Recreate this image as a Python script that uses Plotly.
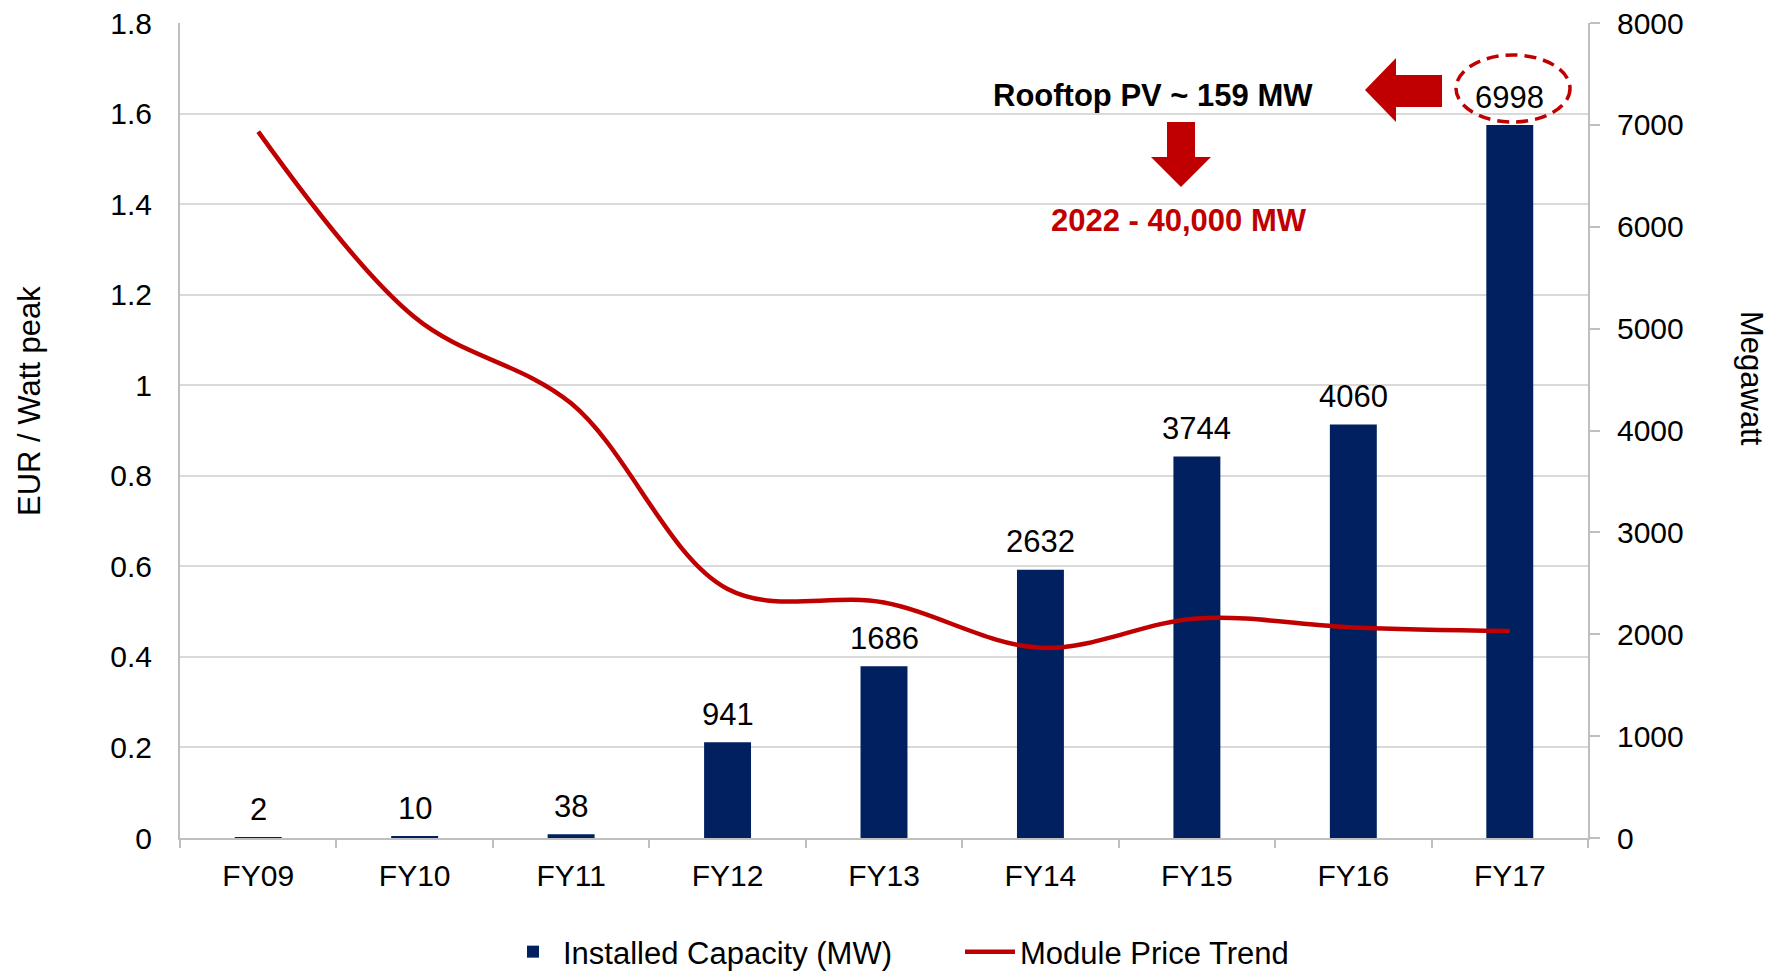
import plotly.graph_objects as go

# ---------------- data ----------------
categories = ["FY09", "FY10", "FY11", "FY12", "FY13", "FY14", "FY15", "FY16", "FY17"]
capacity_mw = [2, 10, 38, 941, 1686, 2632, 3744, 4060, 6998]
module_price = [1.56, 1.15, 0.96, 0.55, 0.52, 0.42, 0.485, 0.465, 0.457]

price_ticks = [0, 0.2, 0.4, 0.6, 0.8, 1.0, 1.2, 1.4, 1.6, 1.8]
price_tick_labels = ["0", "0.2", "0.4", "0.6", "0.8", "1", "1.2", "1.4", "1.6", "1.8"]
mw_ticks = [0, 1000, 2000, 3000, 4000, 5000, 6000, 7000, 8000]
mw_tick_labels = [str(v) for v in mw_ticks]

bar_name = "Installed Capacity (MW)"
line_name = "Module Price Trend"
left_title = "EUR / Watt peak"
right_title = "Megawatt"
note_rooftop = "Rooftop PV ~ 159 MW"
note_target = "2022 - 40,000 MW"

# ---------------- layout geometry ----------------
W, H = 1783, 974
L, R, T, B = 180, 195, 23, 136
PW, PH = W - L - R, H - T - B
FONT = "Liberation Sans, Arial, sans-serif"
RED = "#C00000"
NAVY = "#002060"
GRID = "#D9D9D9"
AXIS = "#BFBFBF"


def P(px, py):
    return ((px - L) / PW, (H - B - py) / PH)


def path(points):
    pts = [P(x, y) for x, y in points]
    return "M " + " L ".join(f"{x:.5f},{y:.5f}" for x, y in pts) + " Z"


fig = go.Figure()

fig.add_trace(go.Bar(
    x=categories, y=capacity_mw, yaxis="y", name=bar_name,
    marker=dict(color=NAVY, line=dict(width=0)),
    hoverinfo="x+y",
))
fig.add_trace(go.Scatter(
    x=categories, y=module_price, yaxis="y2", name=line_name, mode="lines",
    line=dict(color=RED, width=4.5, shape="spline", smoothing=1.0),
))

annotations = []
for c, v in zip(categories, capacity_mw):
    annotations.append(dict(
        x=c, y=v, xref="x", yref="y", text=str(v), showarrow=False,
        yanchor="middle", yshift=28, font=dict(size=31, color="#000", family=FONT),
    ))

x0, y0 = P(29, 401)
annotations.append(dict(x=x0, y=y0, xref="paper", yref="paper", text=left_title,
                        showarrow=False, textangle=-90, xanchor="center", yanchor="middle",
                        font=dict(size=31, color="#000", family=FONT)))
x0, y0 = P(1752, 378)
annotations.append(dict(x=x0, y=y0, xref="paper", yref="paper", text=right_title,
                        showarrow=False, textangle=90, xanchor="center", yanchor="middle",
                        font=dict(size=31, color="#000", family=FONT)))
x0, y0 = P(1153, 95)
annotations.append(dict(x=x0, y=y0, xref="paper", yref="paper", text=f"<b>{note_rooftop}</b>",
                        showarrow=False, xanchor="center", yanchor="middle",
                        font=dict(size=31, color="#000", family=FONT)))
x0, y0 = P(1179, 220)
annotations.append(dict(x=x0, y=y0, xref="paper", yref="paper", text=f"<b>{note_target}</b>",
                        showarrow=False, xanchor="center", yanchor="middle",
                        font=dict(size=31, color=RED, family=FONT)))

shapes = []
# left-pointing block arrow
shapes.append(dict(type="path", xref="paper", yref="paper", fillcolor=RED, line=dict(width=0),
                   path=path([(1365, 90), (1396, 58), (1396, 75), (1442, 75), (1442, 107),
                              (1396, 107), (1396, 122)])))
# down-pointing block arrow
shapes.append(dict(type="path", xref="paper", yref="paper", fillcolor=RED, line=dict(width=0),
                   path=path([(1167, 122), (1195, 122), (1195, 157), (1211, 157), (1181, 187),
                              (1151, 157), (1167, 157)])))
# dashed ellipse around the last value
ex0, ey0 = P(1456, 122)
ex1, ey1 = P(1570, 55)
shapes.append(dict(type="circle", xref="paper", yref="paper", x0=ex0, y0=ey0, x1=ex1, y1=ey1,
                   line=dict(color=RED, width=3.5, dash="12px,7px"), fillcolor="rgba(0,0,0,0)"))

fig.update_layout(
    width=W, height=H,
    margin=dict(l=L, r=R, t=T, b=B, pad=0, autoexpand=False),
    paper_bgcolor="white", plot_bgcolor="white",
    font=dict(family=FONT, size=30, color="#000"),
    bargap=0.7,
    showlegend=True,
    legend=dict(orientation="h", xref="container", x=503 / W, xanchor="left",
                yref="container", y=(H - 952) / H, yanchor="middle",
                font=dict(size=31, family=FONT, color="#000"),
                bgcolor="rgba(0,0,0,0)", itemwidth=50, entrywidth=392,
                entrywidthmode="pixels", traceorder="normal"),
    xaxis=dict(type="category", tickson="boundaries", ticks="outside", ticklen=8,
               tickcolor=AXIS, tickwidth=2, showline=True, linecolor=AXIS, linewidth=2,
               showgrid=False, zeroline=False, tickfont=dict(size=30, family=FONT),
               ticklabelstandoff=10, automargin=False),
    yaxis=dict(side="right", range=[0, 8000], tickvals=mw_ticks, ticktext=mw_tick_labels,
               showgrid=False, zeroline=False, showline=True, linecolor=AXIS, linewidth=2,
               ticks="outside", ticklen=10, tickcolor=AXIS, tickwidth=2,
               tickfont=dict(size=30, family=FONT), ticklabelstandoff=11, automargin=False),
    yaxis2=dict(overlaying="y", side="left", range=[0, 1.8], tickvals=price_ticks,
                ticktext=price_tick_labels, showgrid=True, gridcolor=GRID, gridwidth=1.5,
                zeroline=False, showline=True, linecolor=AXIS, linewidth=2, ticks="",
                tickfont=dict(size=30, family=FONT), ticklabelstandoff=20, automargin=False),
    annotations=annotations,
    shapes=shapes,
)

fig.write_html("out.html", config={"displayModeBar": False},
               post_script="document.body.style.margin='0';")
